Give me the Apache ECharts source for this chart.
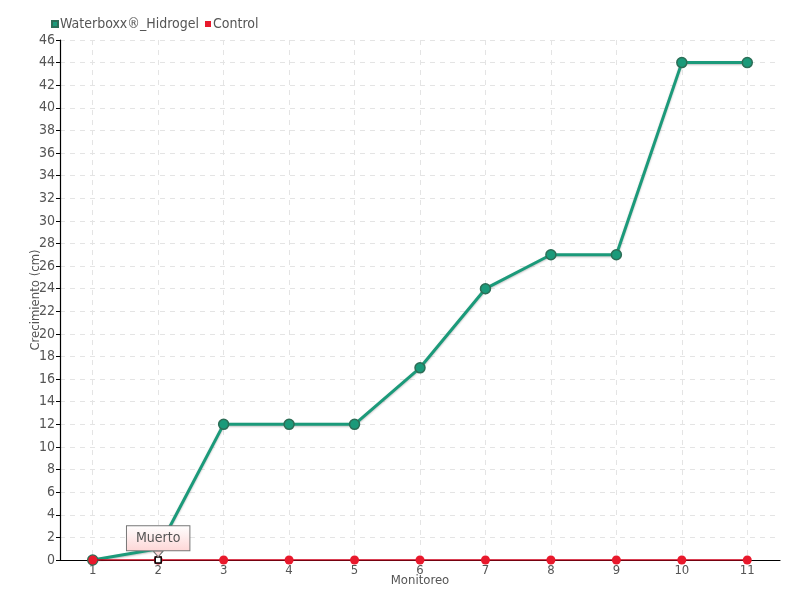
<!DOCTYPE html>
<html><head><meta charset="utf-8">
<script src="https://cdn.jsdelivr.net/npm/echarts@6/dist/echarts.min.js"></script>
<style>html,body{margin:0;padding:0;background:#fff}#c{width:800px;height:600px}</style>
</head><body><div id="c"></div>
<script>
const categories = [1,2,3,4,5,6,7,8,9,10,11];
const waterboxx = [0,1,12,12,12,17,24,27,27,44,44];
const control = [0,0,0,0,0,0,0,0,0,0,0];
const yTicks = {min:0, max:46, interval:2};
const markLabel = {x:2, y:0, text:'Muerto'};

const font = '"DejaVu Sans Condensed", "Liberation Sans Narrow", sans-serif';
const chart = echarts.init(document.getElementById('c'));
chart.setOption({
  animation:false,
  textStyle:{fontFamily:font},
  legend:{left:46, top:12, itemWidth:6, itemHeight:6, itemGap:6,
    icon:'rect',
    textStyle:{fontFamily:font, fontSize:14, color:'#555', padding:[0,0,0,-3]},
    data:['Waterboxx®_Hidrogel','Control']},
  grid:{left:60, right:20, top:40, bottom:40},
  xAxis:{type:'value', min:0.5, max:11.5,
    name:'Monitoreo', nameLocation:'middle', nameGap:14, nameMoveOverlap:false,
    nameTextStyle:{fontFamily:font, fontSize:13, color:'#555'},
    axisLine:{onZero:false, lineStyle:{color:'#000', width:1.2}},
    axisTick:{show:false, customValues:categories},
    axisLabel:{customValues:categories, color:'#555', fontFamily:font, fontSize:13, margin:4},
    splitLine:{show:true, lineStyle:{color:'#e4e4e4', type:[5,5]}}},
  yAxis:{type:'value', min:yTicks.min, max:yTicks.max, interval:yTicks.interval,
    name:'Crecimiento (cm)', nameLocation:'middle', nameGap:18, nameMoveOverlap:false,
    nameTextStyle:{fontFamily:font, fontSize:13, color:'#555'},
    axisLine:{show:true, lineStyle:{color:'#000', width:1.2}},
    axisTick:{show:true, length:4, lineStyle:{color:'#000'}},
    axisLabel:{color:'#555', fontFamily:font, fontSize:14, margin:5},
    splitLine:{show:true, lineStyle:{color:'#e4e4e4', type:[5,5]}}},
  series:[
    {name:'Waterboxx®_Hidrogel', type:'line',
      data:categories.map((c,i)=>[c,waterboxx[i]]),
      symbol:'circle', symbolSize:10,
      itemStyle:{color:'#1b9a7a', borderColor:'#2d6e57', borderWidth:1.5},
      lineStyle:{color:'#1b9a7a', width:3, shadowColor:'rgba(0,0,0,0.25)', shadowBlur:2, shadowOffsetY:1},
      z:2},
    {name:'Control', type:'line',
      data:categories.map((c,i)=>[c,control[i]]),
      symbol:'circle', symbolSize:9,
      itemStyle:{color:'#e8192c'},
      lineStyle:{color:'#d0021b', width:1.5},
      z:3,
      markPoint:{silent:true, data:[
        {coord:[markLabel.x, markLabel.y], symbol:'rect', symbolSize:6,
          itemStyle:{color:'#fff', borderColor:'#000', borderWidth:1.5},
          label:{show:true, formatter:markLabel.text, position:'top', distance:6,
            fontFamily:font, fontSize:14, color:'#555',
            padding:[5,9,5,9], borderColor:'#777', borderWidth:1,
            backgroundColor:{type:'linear',x:0,y:0,x2:0,y2:1,colorStops:[{offset:0,color:'#ffffff'},{offset:1,color:'#fdd6d6'}]}}},
        {coord:[markLabel.x, markLabel.y], symbol:'path://M0,0 L10,0 L5,7 Z', symbolSize:[10,6], symbolOffset:[0,-6],
          itemStyle:{color:'#fdd8d8', borderColor:'#777', borderWidth:1}, label:{show:false}}
      ]}}
  ]
});
</script></body></html>
